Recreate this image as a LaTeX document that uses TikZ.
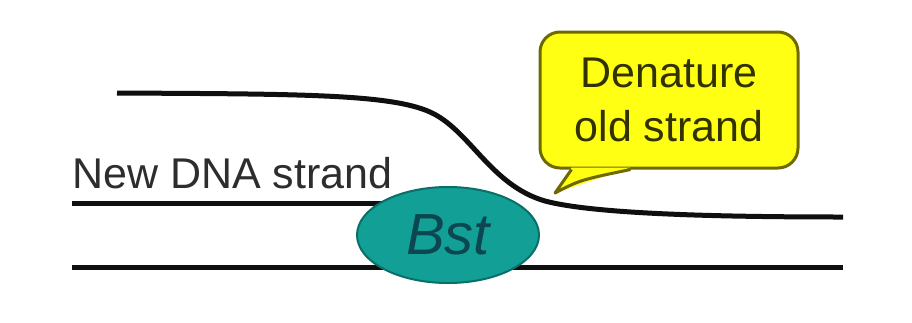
\documentclass[tikz,border=0pt]{standalone}
\usepackage{fontspec}
\setmainfont{Liberation Sans}
\usetikzlibrary{shapes.geometric,calc}
\definecolor{strandblack}{RGB}{15,15,15}
\definecolor{bstfill}{RGB}{18,160,150}
\definecolor{bstedge}{RGB}{10,110,105}
\definecolor{bsttext}{RGB}{12,70,80}
\definecolor{calloutfill}{RGB}{255,255,20}
\definecolor{calloutedge}{RGB}{110,105,0}
\definecolor{labeltext}{RGB}{45,45,45}
\definecolor{callouttext}{RGB}{50,50,0}
\tikzset{
  strand/.style={draw=strandblack, line width=5pt},
  enzyme/.style={ellipse, fill=bstfill, draw=bstedge, line width=2pt,
    minimum width=182pt, minimum height=96pt, inner sep=0pt,
    text=bsttext, font=\fontsize{58}{60}\selectfont\itshape},
  bubble/.style={rectangle, rounded corners=20pt, fill=calloutfill,
    draw=calloutedge, line width=3pt, minimum width=258pt, minimum height=136pt,
    align=center, text=callouttext, font=\fontsize{43}{54}\selectfont},
  tag/.style={text=labeltext, font=\fontsize{43}{50}\selectfont, inner sep=0pt}
}
\begin{document}
\begin{tikzpicture}[x=1pt, y=-1pt]
  \useasboundingbox (0,0) rectangle (912,322);
  \fill[white] (0,0) rectangle (912,322);

  % template strand and new strand
  \coordinate (bl) at (72,267);
  \coordinate (br) at (843,267);
  \coordinate (nl) at (72,203);
  \coordinate (nr) at (400,203);
  \draw[strand] (bl) -- (br);
  \draw[strand] (nl) -- (nr);

  % old strand peeling away
  \coordinate (ol) at (117,93);
  \coordinate (or) at (843,217);
  \draw[strand] (ol) .. controls (300,94) and (390,94) .. (430,112)
    .. controls (470,130) and (490,185) .. (545,201)
    .. controls (590,213) and (700,217) .. (or);

  % polymerase
  \node[enzyme] (bst) at (448,235) {Bst};

  % label of the new strand
  \node[tag, anchor=base west] (newlabel) at (72,188) {New DNA strand};

  % speech bubble
  \node[bubble] (callout) at (669,100) {Denature\\old strand};
  \coordinate (tip) at (555,193);
  \fill[calloutfill] ($(callout.south west)+(33,-2)$) -- (tip) -- ($(callout.south west)+(92,-2)$) -- cycle;
  \draw[calloutedge, line width=3pt, line join=round]
    ($(callout.south west)+(33,0)$) -- (tip)
    .. controls (580,180) .. ($(callout.south west)+(92,0)$);
\end{tikzpicture}
\end{document}
